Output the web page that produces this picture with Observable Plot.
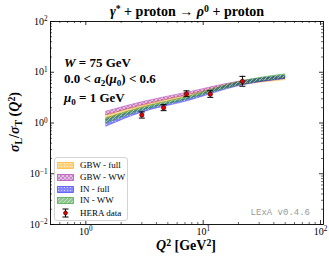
<!DOCTYPE html>
<html><head><meta charset="utf-8">
<script src="https://cdn.jsdelivr.net/npm/d3@7"></script>
<script src="https://cdn.jsdelivr.net/npm/@observablehq/plot@0.6"></script>
<style>
body{margin:0;background:#fff;}
#wrap{position:relative;width:329px;height:260px;font-family:"Liberation Serif",serif;overflow:hidden;}
.ov{position:absolute;white-space:nowrap;color:#000;line-height:1;}
.sup{font-size:0.7em;position:relative;top:-0.45em;}
.sub{font-size:0.7em;position:relative;top:0.3em;}
.lg{position:absolute;left:2px;height:10px;display:flex;align-items:center;font-size:9px;}
.lg svg{margin-right:6px;}
</style></head><body>
<svg width="0" height="0" style="position:absolute">
<defs>
<pattern id="pOr" width="3" height="3" patternUnits="userSpaceOnUse">
 <rect width="3" height="3" fill="#ffa500" fill-opacity="0.5"/>
 <circle cx="1.5" cy="1.5" r="0.6" fill="#fff" fill-opacity="0.8"/>
</pattern>
<pattern id="pPu" width="4" height="4" patternUnits="userSpaceOnUse">
 <rect width="4" height="4" fill="#a020a0" fill-opacity="0.55"/>
 <path d="M0,0L4,4M4,0L0,4" stroke="#fff" stroke-width="0.6" stroke-opacity="0.8"/>
</pattern>
<pattern id="pBl" width="3" height="3" patternUnits="userSpaceOnUse">
 <rect width="3" height="3" fill="#1010ff" fill-opacity="0.5"/>
 <circle cx="1.5" cy="1.5" r="0.55" fill="#fff" fill-opacity="0.8"/>
</pattern>
<pattern id="pGr" width="4" height="4" patternUnits="userSpaceOnUse">
 <rect width="4" height="4" fill="#209020" fill-opacity="0.5"/>
 <path d="M-1,1L1,-1M0,4L4,0M3,5L5,3" stroke="#fff" stroke-width="0.6" stroke-opacity="0.8"/>
</pattern>
</defs></svg>
<div id="wrap"></div>
<script>
// ---- data ----
const q2Grid = [1.5, 3, 7.5, 20, 50];
const gbwFullLo = [1.15, 1.95, 3.25, 5.4, 7.0];
const gbwFullHi = [1.44, 2.26, 3.67, 6.3, 8.2];
const gbwWwLo   = [1.42, 2.2, 3.55, 5.6, 7.4];
const gbwWwHi   = [1.67, 2.56, 4.0, 6.5, 8.4];
const inFullLo  = [0.85, 1.6, 2.71, 5.3, 7.4];
const inFullHi  = [1.15, 1.86, 3.07, 6.2, 8.5];
const inWwLo    = [0.99, 1.72, 2.93, 5.5, 7.6];
const inWwHi    = [1.24, 2.0, 3.3, 6.4, 9.1];

const heraQ2  = [3.0, 4.6, 7.2, 11.5, 21.6];
const heraVal = [1.44, 2.0, 3.75, 3.7, 6.6];
const heraLo  = [1.25, 1.75, 3.3, 3.2, 5.3];
const heraHi  = [1.65, 2.3, 4.3, 4.3, 8.3];

const bandNames = ["GBW - full", "GBW - WW", "IN - full", "IN - WW"];
const bandPatterns = ["pOr", "pPu", "pBl", "pGr"];
const bandColors = ["#ffa500", "#a020a0", "#2020ff", "#209020"];
const bandLo = [gbwFullLo, gbwWwLo, inFullLo, inWwLo];
const bandHi = [gbwFullHi, gbwWwHi, inFullHi, inWwHi];

const xMajor = [1, 10, 100];
const xMinor = [0.6,0.7,0.8,0.9,2,3,4,5,6,7,8,9,20,30,40,50,60,70,80,90];
const yMajor = [0.01, 0.1, 1, 10, 100];
const yMinor = [0.02,0.03,0.04,0.05,0.06,0.07,0.08,0.09,0.2,0.3,0.4,0.5,0.6,0.7,0.8,0.9,2,3,4,5,6,7,8,9,20,30,40,50,60,70,80,90];

// ---- layout ----
const W = 329, H = 260, mL = 50, mR = 6, mT = 21, mB = 36;
const pw = W - mL - mR, ph = H - mT - mB;

const hera = heraQ2.map((q, i) => ({q, v: heraVal[i], lo: heraLo[i], hi: heraHi[i]}));
const capSym = {draw(ctx, size) { const w = Math.sqrt(size / Math.PI); ctx.moveTo(-w, 0); ctx.lineTo(w, 0); }};
const expFmt = d => { const e = Math.round(Math.log10(d)); return e < 0 ? "\u2212" + (-e) : String(e); };

const areaMarks = bandNames.map((n, k) => Plot.areaY(
  q2Grid.map((q, i) => ({q, lo: bandLo[k][i], hi: bandHi[k][i]})),
  {x: "q", y1: "lo", y2: "hi", fill: `url(#${bandPatterns[k]})`, stroke: bandColors[k],
   strokeWidth: 0.6, strokeOpacity: 0.7, curve: "monotone-x"}));

const plot = Plot.plot({
  width: W, height: H, marginLeft: mL, marginRight: mR, marginTop: mT, marginBottom: mB,
  x: {type: "log", domain: [0.5, 106]},
  y: {type: "log", domain: [0.01, 100]},
  style: {fontFamily: "Liberation Serif, serif", fontSize: "10px", background: "white", color: "black", overflow: "visible"},
  marks: [
    ...areaMarks,
    Plot.ruleX(hera, {x: "q", y1: "lo", y2: "hi", stroke: "black", strokeWidth: 1}),
    Plot.dot(hera, {x: "q", y: "lo", symbol: capSym, r: 3, stroke: "black", strokeWidth: 1}),
    Plot.dot(hera, {x: "q", y: "hi", symbol: capSym, r: 3, stroke: "black", strokeWidth: 1}),
    Plot.dot(hera, {x: "q", y: "v", r: 2.2, fill: "#e00000", stroke: "#300", strokeWidth: 0.6}),
    Plot.tickX(xMajor, {x: d => d, insetTop: ph - 4, strokeWidth: 0.8}),
    Plot.tickX(xMajor, {x: d => d, insetBottom: ph - 4, strokeWidth: 0.8}),
    Plot.tickX(xMinor, {x: d => d, insetTop: ph - 2, strokeWidth: 0.6}),
    Plot.tickX(xMinor, {x: d => d, insetBottom: ph - 2, strokeWidth: 0.6}),
    Plot.tickY(yMajor, {y: d => d, insetRight: pw - 4, strokeWidth: 0.8}),
    Plot.tickY(yMajor, {y: d => d, insetLeft: pw - 4, strokeWidth: 0.8}),
    Plot.tickY(yMinor, {y: d => d, insetRight: pw - 2, strokeWidth: 0.6}),
    Plot.tickY(yMinor, {y: d => d, insetLeft: pw - 2, strokeWidth: 0.6}),
    Plot.axisX(xMajor, {tickSize: 0, tickPadding: 3, tickFormat: expFmt, label: null, fontSize: 10}),
    Plot.axisY(yMajor, {tickSize: 0, tickPadding: 3, tickFormat: expFmt, label: null, fontSize: 10}),
    Plot.frame({stroke: "black", strokeWidth: 0.9})
  ]
});

// superscript tick labels
d3.select(plot).selectAll('g[aria-label="x-axis tick label"] text, g[aria-label="y-axis tick label"] text').each(function () {
  const e = this.textContent;
  this.textContent = "10";
  const t = document.createElementNS("http://www.w3.org/2000/svg", "tspan");
  t.setAttribute("dy", "-0.45em");
  t.setAttribute("font-size", "0.72em");
  t.textContent = e;
  this.appendChild(t);
});

const wrap = document.getElementById("wrap");
wrap.appendChild(plot);
plot.style.position = "absolute"; plot.style.left = "0"; plot.style.top = "0";

function ov(html, css) {
  const d = document.createElement("div");
  d.className = "ov";
  d.innerHTML = html;
  d.style.cssText += css;
  wrap.appendChild(d);
  return d;
}
ov('<i>γ</i><span class="sup">*</span> + proton → <i>ρ</i><span class="sup">0</span> + proton',
   "left:187px;top:12px;transform:translate(-50%,-50%);font-size:14px;font-weight:bold;");
ov('<i>W</i> = 75 GeV', "left:64px;top:62px;transform:translateY(-50%);font-size:13px;font-weight:bold;");
ov('0.0 &lt; <i>a</i><span class="sub">2</span>(<i>μ</i><span class="sub">0</span>) &lt; 0.6', "left:64px;top:79px;transform:translateY(-50%);font-size:13px;font-weight:bold;");
ov('<i>μ</i><span class="sub">0</span> = 1 GeV', "left:64px;top:98px;transform:translateY(-50%);font-size:13px;font-weight:bold;");
ov('<i>Q</i><span class="sup">2</span> [GeV<span class="sup">2</span>]', "left:186px;top:246px;transform:translate(-50%,-50%);font-size:14px;font-weight:bold;");
ov('<i>σ</i><span class="sub">L</span>/<i>σ</i><span class="sub">T</span> (<i>Q</i><span class="sup">2</span>)', "left:15px;top:122px;transform:translate(-50%,-50%) rotate(-90deg);font-size:14px;font-weight:bold;");
ov('LExA v0.4.6', "left:310px;top:213px;transform:translate(-100%,-50%);font-size:9px;color:#999;font-family:'Liberation Mono',monospace;");

// legend
const leg = ov('', "left:54px;top:157px;width:72px;height:62px;border:1px solid #d4d4d4;border-radius:3px;background:rgba(255,255,255,0.8);");
const rowY = [2, 14, 26, 37, 50];
bandNames.forEach((n, k) => {
  const r = document.createElement("div");
  r.className = "lg";
  r.style.top = rowY[k] + "px";
  r.innerHTML = `<svg width="17" height="7"><rect x="0.5" y="0.5" width="16" height="6" fill="url(#${bandPatterns[k]})" stroke="${bandColors[k]}" stroke-opacity="0.7" stroke-width="0.8"/></svg>${n}`;
  leg.appendChild(r);
});
const hr = document.createElement("div");
hr.className = "lg";
hr.style.top = rowY[4] + "px";
hr.innerHTML = `<svg width="17" height="10"><path d="M8.5,1V9M5.5,1H11.5M5.5,9H11.5" stroke="black" stroke-width="1" fill="none"/><circle cx="8.5" cy="5" r="2" fill="#e00000" stroke="#300" stroke-width="0.6"/></svg>HERA data`;
leg.appendChild(hr);
</script>
</body></html>
